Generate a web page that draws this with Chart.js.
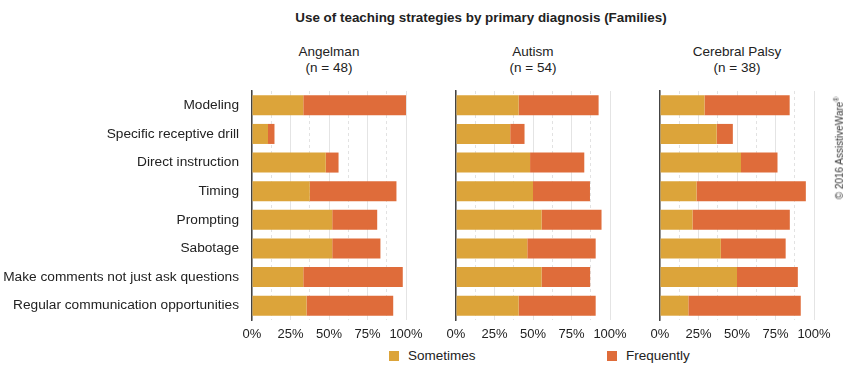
<!DOCTYPE html>
<html>
<head>
<meta charset="utf-8">
<script src="https://cdn.jsdelivr.net/npm/chart.js@4.4.0/dist/chart.umd.min.js"></script>
<style>
  body { margin: 0; background: #fff; font-family: "Liberation Sans", Arial, Helvetica, sans-serif; color: #222; }
  #wrap { position: relative; width: 852px; height: 369px; overflow: hidden; }
  canvas { position: absolute; top: 0; }
  .txt { position: absolute; white-space: nowrap; }
  .title { font-weight: bold; font-size: 13.4px; top: 10px; left: 281px; width: 400px; text-align: center; }
  .head { font-size: 13.5px; top: 44px; width: 154px; text-align: center; line-height: 16px; }
  .legend { font-size: 13.5px; top: 348px; line-height: 16px; }
  .legend span.sw { display: inline-block; width: 10px; height: 10px; margin-right: 9px; vertical-align: -1px; }
  .copy { font-size: 10px; color: #333; left: 839px; top: 148px; transform: translate(-50%, -50%) rotate(-90deg); }
</style>
</head>
<body>
<div id="wrap">
  <div class="txt title">Use of teaching strategies by primary diagnosis (Families)</div>
  <div class="txt head" style="left:252px">Angelman<br>(n = 48)</div>
  <div class="txt head" style="left:456px">Autism<br>(n = 54)</div>
  <div class="txt head" style="left:660px">Cerebral Palsy<br>(n = 38)</div>
  <canvas id="angelman" width="432" height="345" style="left:0px"></canvas>
  <canvas id="autism" width="200" height="345" style="left:436px"></canvas>
  <canvas id="cp" width="200" height="345" style="left:640px"></canvas>
  <div class="txt legend" style="left:389px"><span class="sw" style="background:#dca43a"></span>Sometimes</div>
  <div class="txt legend" style="left:607px"><span class="sw" style="background:#df6c3a"></span>Frequently</div>
  <div class="txt copy">© 2016 AssistiveWare<sup style="font-size:7px">®</sup></div>
</div>
<script>
const strategies = [
  'Modeling',
  'Specific receptive drill',
  'Direct instruction',
  'Timing',
  'Prompting',
  'Sabotage',
  'Make comments not just ask questions',
  'Regular communication opportunities'
];

// percentages of families
const angelmanSometimes = [33.3, 10.4, 47.9, 37.5, 52.1, 52.1, 33.3, 35.4];
const angelmanFrequently = [66.7, 4.2, 8.3, 56.3, 29.2, 31.3, 64.6, 56.3];

const autismSometimes = [40.7, 35.2, 48.1, 50, 55.6, 46.3, 55.6, 40.7];
const autismFrequently = [51.9, 9.3, 35.2, 37, 38.9, 44.4, 31.5, 50];

const cpSometimes = [28.9, 36.8, 52.6, 23.7, 21.1, 39.5, 50, 18.4];
const cpFrequently = [55.3, 10.5, 23.7, 71, 63.2, 42.1, 39.5, 73];

const SOMETIMES_COLOR = '#dca43a';
const FREQUENTLY_COLOR = '#df6c3a';
const FONT = '"Liberation Sans", Arial, Helvetica, sans-serif';

function makePanel(canvasId, sometimes, frequently, showLabels) {
  const yWidth = showLabels ? 252 : 20;
  return new Chart(document.getElementById(canvasId), {
    type: 'bar',
    data: {
      labels: strategies,
      datasets: [
        { label: 'Sometimes', data: sometimes, backgroundColor: SOMETIMES_COLOR, borderWidth: 0 },
        { label: 'Frequently', data: frequently, backgroundColor: FREQUENTLY_COLOR, borderWidth: 0 }
      ]
    },
    options: {
      indexAxis: 'y',
      responsive: false,
      animation: false,
      layout: { padding: { top: 91, right: 26, bottom: 0, left: 0 } },
      plugins: { legend: { display: false }, tooltip: { enabled: false } },
      datasets: { bar: { categoryPercentage: 0.8, barPercentage: 0.875 } },
      scales: {
        x: {
          stacked: true,
          min: 0,
          max: 100,
          afterFit: scale => { scale.height = 25; },
          ticks: {
            stepSize: 12.5,
            autoSkip: false,
            maxRotation: 0,
            padding: 7,
            color: '#222',
            font: { family: FONT, size: 13 },
            callback: v => (v % 25 === 0 ? v + '%' : '')
          },
          grid: {
            drawTicks: false,
            color: ctx => (ctx.tick && ctx.tick.value % 25 === 0 ? '#e4e4e4' : '#e2e2e2')
          },
          border: {
            display: false,
            dash: ctx => (ctx.tick && ctx.tick.value % 25 !== 0 ? [3, 3] : [])
          }
        },
        y: {
          stacked: true,
          afterFit: scale => { scale.width = yWidth; },
          ticks: {
            display: showLabels,
            padding: 13,
            color: '#222',
            font: { family: FONT, size: 13.7 }
          },
          grid: { display: false, drawTicks: false },
          border: { display: true, color: '#444', width: 1.5 }
        }
      }
    }
  });
}

makePanel('angelman', angelmanSometimes, angelmanFrequently, true);
makePanel('autism', autismSometimes, autismFrequently, false);
makePanel('cp', cpSometimes, cpFrequently, false);
</script>
</body>
</html>
